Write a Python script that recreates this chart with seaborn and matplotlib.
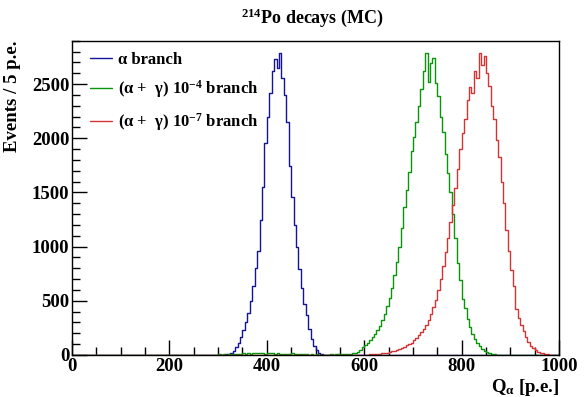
import matplotlib
matplotlib.use("Agg")
import matplotlib.pyplot as plt
from matplotlib.lines import Line2D
from matplotlib.ticker import MultipleLocator
import numpy as np
import pandas as pd
import seaborn as sns

# histogram definition (5 p.e. bins)
BIN_WIDTH = 5
X_MIN, X_MAX = 0, 1000

# counts per bin, starting at the given lower bin edge
ALPHA_START = 305
ALPHA_COUNTS = [
    2, 3, 6, 12, 22, 40, 70, 115, 170, 230, 300, 390, 500, 640, 800, 960,
    1250, 1550, 1960, 2200, 2420, 2620, 2730, 2650, 2785, 2560, 2400, 2150,
    1740, 1460, 1200, 1000, 790, 620, 470, 370, 240, 150, 80, 42, 18, 8, 3, 1,
]

GAMMA4_START = 250
GAMMA4_COUNTS = [
    0, 2, 0, 1, 3, 0, 2, 4, 1, 3, 5, 2, 6, 4, 8, 5, 10, 7, 12, 9, 14, 10, 16,
    12, 18, 14, 20, 15, 17, 13, 19, 14, 16, 11, 15, 10, 13, 9, 12, 8, 14, 7,
    9, 6, 8, 5, 7, 4, 6, 3, 5, 3, 4, 2, 4, 3, 5, 4, 6, 5, 7, 6,
    8, 10, 12, 15, 20, 27, 45, 70, 88, 110, 135, 165, 195, 230, 268, 320,
    380, 450, 525, 620, 740, 860, 1000, 1170, 1370, 1520, 1690, 1880, 2010,
    2150, 2300, 2450, 2620, 2790, 2520, 2690, 2740, 2510, 2390, 2200, 2060,
    1850, 1680, 1500, 1300, 1080, 850, 690, 520, 430, 330, 260, 195, 150,
    110, 80, 55, 38, 25, 16, 10, 6, 3, 2, 1,
]

GAMMA7_START = 600
GAMMA7_COUNTS = [
    3, 4, 5, 6, 7, 9, 11, 14, 18, 22, 27, 33, 40, 48, 57, 66, 76, 88, 100,
    115, 135, 155, 180, 210, 240, 280, 320, 380, 440, 510, 600, 700, 820,
    950, 1080, 1230, 1380, 1540, 1720, 1900, 2050, 2180, 2350, 2470, 2420,
    2620, 2560, 2790, 2680, 2760, 2600, 2480, 2300, 2180, 1980, 1830, 1600,
    1400, 1150, 960, 780, 640, 420, 340, 280, 220, 170, 120, 85, 60, 42, 30,
    20, 14, 9, 6, 4, 3, 2, 1,
]

LABELS = [
    "α branch",
    "(α +  γ) 10$^{-4}$ branch",
    "(α +  γ) 10$^{-7}$ branch",
]
COLORS = ["#14149a", "#0a960a", "#d43434"]


def full_histogram(start, counts):
    centers = np.arange(X_MIN, X_MAX, BIN_WIDTH) + BIN_WIDTH / 2
    values = np.zeros(len(centers))
    i0 = (start - X_MIN) // BIN_WIDTH
    values[i0:i0 + len(counts)] = counts
    return pd.DataFrame({"q": centers, "events": values})


sns.set_theme(style="ticks")
plt.rcParams["font.family"] = ["Liberation Serif", "DejaVu Serif"]
plt.rcParams["font.weight"] = "bold"
plt.rcParams["text.color"] = "black"
plt.rcParams["axes.labelcolor"] = "black"
plt.rcParams["xtick.color"] = "black"
plt.rcParams["ytick.color"] = "black"
plt.rcParams["mathtext.fontset"] = "custom"
plt.rcParams["mathtext.rm"] = "Liberation Serif:bold"
plt.rcParams["mathtext.it"] = "Liberation Serif:bold"
plt.rcParams["mathtext.bf"] = "Liberation Serif:bold"

fig = plt.figure(figsize=(5.84, 3.97), dpi=100)
ax = fig.add_axes([0.1233, 0.1058, 0.834, 0.7917])

series = [
    (ALPHA_START, ALPHA_COUNTS),
    (GAMMA4_START, GAMMA4_COUNTS),
    (GAMMA7_START, GAMMA7_COUNTS),
]
for (start, counts), color in zip(series, COLORS):
    df = full_histogram(start, counts)
    sns.histplot(data=df, x="q", weights="events", binwidth=BIN_WIDTH,
                 binrange=(X_MIN, X_MAX), element="step", fill=False,
                 color=color, linewidth=1.0, ax=ax)

ax.set_xlim(X_MIN, X_MAX)
ax.set_ylim(0, 2900)
ax.xaxis.set_major_locator(MultipleLocator(200))
ax.xaxis.set_minor_locator(MultipleLocator(50))
ax.yaxis.set_major_locator(MultipleLocator(500))
ax.yaxis.set_minor_locator(MultipleLocator(100))
ax.tick_params(which="both", direction="in", top=False, right=False,
               labelsize=13.5, width=1, color="black", labelcolor="black",
               pad=2)
ax.tick_params(which="major", length=11)
ax.tick_params(which="minor", length=6)
for spine in ax.spines.values():
    spine.set_color("black")
    spine.set_linewidth(1)

ax.set_xlabel("Q$_{α}$ [p.e.]", fontsize=13.5, fontweight="bold",
              loc="right", color="black")
ax.set_ylabel("Events / 5 p.e.", fontsize=13.5, fontweight="bold",
              loc="top", color="black")
ax.xaxis.set_label_coords(1.0, -0.07)
ax.yaxis.set_label_coords(-0.105, 1.0)

fig.text(0.535, 0.955, "$^{214}$Po decays (MC)", ha="center", va="center",
         fontsize=13, fontweight="bold", color="black")

handles = [Line2D([], [], color=c, lw=1.0) for c in COLORS]
leg = ax.legend(handles, LABELS, loc="upper left",
                bbox_to_anchor=(0.037, 0.965), frameon=False, fontsize=12,
                handlelength=1.3, handletextpad=0.4, labelspacing=0.65,
                borderpad=0, borderaxespad=0)
for txt in leg.get_texts():
    txt.set_color("black")

fig.savefig("out.png", dpi=100)
